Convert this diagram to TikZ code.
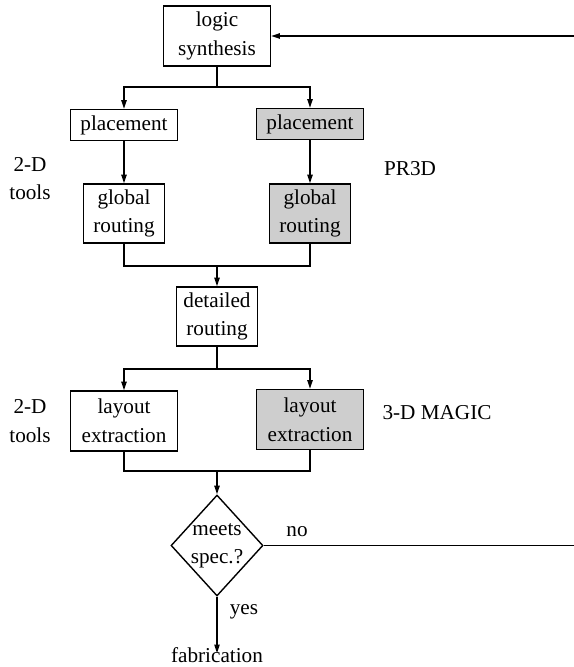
\documentclass[tikz,border=0pt]{standalone}
\usepackage{fontspec}
\setmainfont{Liberation Serif}
\usetikzlibrary{arrows.meta,shapes.geometric}
\definecolor{boxgray}{RGB}{206,206,206}
\begin{document}
\begin{tikzpicture}[x=0.75pt,y=-0.75pt,
  txt/.style={font=\fontsize{15.9}{21.4}\selectfont, align=center, inner sep=0pt},
  box/.style={txt, draw, line width=1.05pt},
  bigbox/.style={box, minimum width=80.25pt, minimum height=45pt},
  flatbox/.style={box, minimum width=80.25pt, minimum height=23.25pt},
  midbox/.style={box, minimum width=60.75pt, minimum height=44.25pt},
  shaded/.style={fill=boxgray},
  conn/.style={line width=1.05pt},
  arr/.style={conn, -{Triangle[length=6.5pt,width=4pt]}}]
\useasboundingbox (0,0) rectangle (574,667);
% nodes
\node[bigbox] (ls) at (217,36) {logic\\synthesis};
\node[flatbox] (pl) at (124,125) {placement};
\node[flatbox, shaded] (pr) at (310,124) {placement};
\node[midbox] (gl) at (124,213.5) {global\\routing};
\node[midbox, shaded] (gr) at (310,213.5) {global\\routing};
\node[midbox] (dr) at (217,316.5) {detailed\\routing};
\node[bigbox] (ll) at (124,421) {layout\\extraction};
\node[bigbox, shaded] (lr) at (310,419.5) {layout\\extraction};
\node[draw, line width=1.05pt, diamond, minimum width=69pt, minimum height=75.75pt, inner sep=0pt] (dm) at (217,545.5) {};
\node[txt] (dmt) at (217,546) {meets\\spec.?};
\node[txt] (fab) at (217,655) {fabrication};
% labels
\node[txt] (t2d1) at (30,178.5) {2-D\\tools};
\node[txt] (t2d2) at (30,421) {2-D\\tools};
\node[txt] (pr3d) at (410,169) {PR3D};
\node[txt] (magic) at (437,413) {3-D MAGIC};
\node[txt] (no) at (297,532) {no};
\node[txt] (yes) at (244,612) {yes};
% coordinates
\coordinate (s1) at (217,87);
\coordinate (m1) at (217,266);
\coordinate (s2) at (217,369);
\coordinate (m2) at (217,471);
\coordinate (fbx) at (580,300);
% connectors
\draw[conn] (ls.south) -- (s1);
\draw[arr] (s1) -| (pl.north);
\draw[arr] (s1) -| (pr.north);
\draw[arr] (pl.south) -- (gl.north);
\draw[arr] (pr.south) -- (gr.north);
\draw[conn] (gl.south) |- (m1);
\draw[conn] (gr.south) |- (m1);
\draw[arr] (m1) -- (dr.north);
\draw[conn] (dr.south) -- (s2);
\draw[arr] (s2) -| (ll.north);
\draw[arr] (s2) -| (lr.north);
\draw[conn] (ll.south) |- (m2);
\draw[conn] (lr.south) |- (m2);
\draw[arr] (m2) -- (dm.north);
\draw[arr] (dm.south) -- ([yshift=-4.5pt]fab.north);
\draw[arr] (dm.east) -- (dm.east -| fbx) -- (ls.east -| fbx) -- (ls.east);
\end{tikzpicture}
\end{document}
